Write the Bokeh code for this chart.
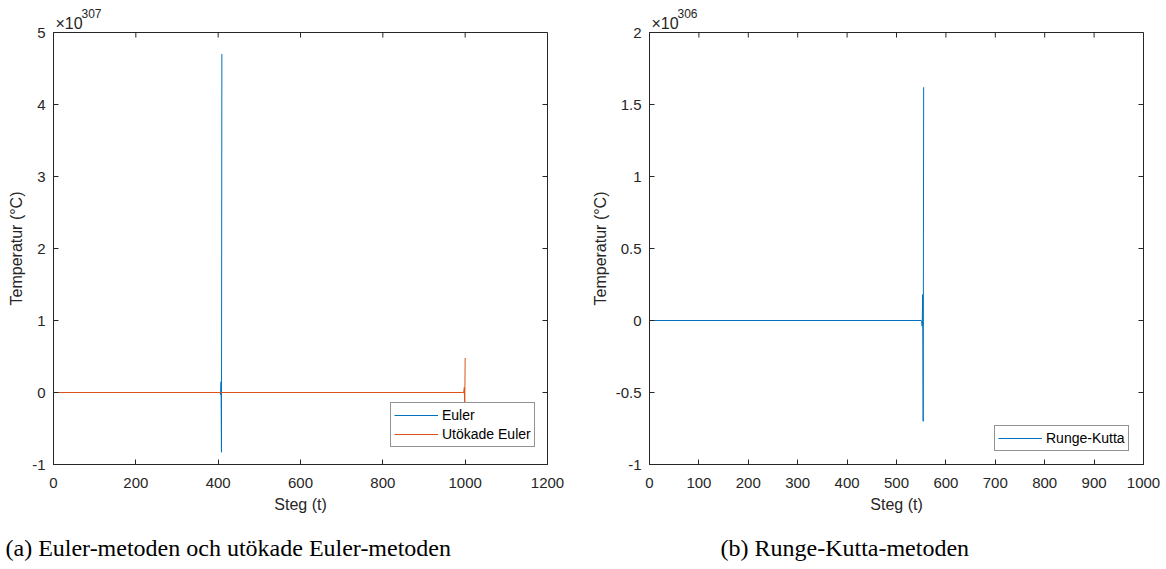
from bokeh.plotting import figure
from bokeh.layouts import row
from bokeh.models import (Range1d, FixedTicker, Title, Legend, LegendItem)
from bokeh.embed import file_html
from bokeh.resources import INLINE

# Temperature per step, mantissas (left panel x 1e307, right panel x 1e306)
euler_steps = [0, 404, 405, 406, 407, 408, 409]
euler_temp = [0.0, 0.0, 0.005, -0.03, 0.15, -0.83, 4.70]

heun_steps = [0, 994, 995, 996, 997, 998, 999, 1000]
heun_temp = [0.0, 0.0, 0.003, -0.009, 0.025, 0.07, -0.18, 0.48]

rk_steps = [0, 550, 551, 552, 553, 554, 555]
rk_temp = [0.0, 0.0, -0.01, -0.04, 0.18, -0.70, 1.62]

left_xticks = [0, 200, 400, 600, 800, 1000, 1200]
left_yticks = [-1, 0, 1, 2, 3, 4, 5]
left_ylabels = ["-1", "0", "1", "2", "3", "4", "5"]
right_xticks = [0, 100, 200, 300, 400, 500, 600, 700, 800, 900, 1000]
right_yticks = [-1, -0.5, 0, 0.5, 1, 1.5, 2]
right_ylabels = ["-1", "-0.5", "0", "0.5", "1", "1.5", "2"]

BLUE = "#0072BD"
ORANGE = "#D95319"
INK = "#262626"
SANS = "Liberation Sans"
SERIF = "Liberation Serif"
FRAME_W, FRAME_H, TICK = 494, 432, 5


def make_panel(xmax, ymin, ymax, xticks, yticks, ylabels, border_left,
               border_right):
    p = figure(frame_width=FRAME_W, frame_height=FRAME_H, output_backend="svg",
               toolbar_location=None, x_range=Range1d(0, xmax),
               y_range=Range1d(ymin, ymax), min_border_left=border_left,
               min_border_right=border_right, min_border_top=32,
               min_border_bottom=0, background_fill_color="white",
               border_fill_color="white")
    p.xgrid.visible = False
    p.ygrid.visible = False
    p.outline_line_color = INK
    p.outline_line_width = 1

    for ax in (p.xaxis[0], p.yaxis[0]):
        ax.axis_line_color = INK
        ax.major_tick_line_color = INK
        ax.major_tick_in = TICK
        ax.major_tick_out = 0
        ax.minor_tick_line_color = None
        ax.major_label_text_font = SANS
        ax.major_label_text_font_size = "15px"
        ax.major_label_text_color = INK
        ax.axis_label_text_font = SANS
        ax.axis_label_text_font_size = "16px"
        ax.axis_label_text_font_style = "normal"
        ax.axis_label_text_color = INK

    p.xaxis.ticker = FixedTicker(ticks=xticks)
    p.yaxis.ticker = FixedTicker(ticks=yticks)
    p.xaxis.major_label_overrides = {t: str(t) for t in xticks}
    p.yaxis.major_label_overrides = {t: l for t, l in zip(yticks, ylabels)}
    p.xaxis.major_label_standoff = 13
    p.yaxis.major_label_standoff = 8
    p.xaxis.axis_label = "Steg (t)"
    p.yaxis.axis_label = "Temperatur (°C)"
    p.xaxis.axis_label_standoff = 5
    p.yaxis.axis_label_standoff = 4

    # inward ticks on the top and right edges of the box
    dy = TICK * (ymax - ymin) / FRAME_H
    dx = TICK * xmax / FRAME_W
    p.segment(x0=xticks, x1=xticks, y0=[ymax] * len(xticks),
              y1=[ymax - dy] * len(xticks), line_color=INK, line_width=1)
    p.segment(x0=[xmax] * len(yticks), x1=[xmax - dx] * len(yticks),
              y0=yticks, y1=yticks, line_color=INK, line_width=1)
    return p


def exponent(p, power):
    p.add_layout(Title(text="×10", align="left", offset=2,
                       text_font=SANS, text_font_size="16px",
                       text_font_style="normal", text_color=INK,
                       standoff=2), "above")
    p.add_layout(Title(text=power, align="left", offset=28,
                       text_font=SANS, text_font_size="12px",
                       text_font_style="normal", text_color=INK,
                       standoff=-12), "above")


def caption(p, text, offset):
    p.add_layout(Title(text=text, align="left", offset=offset,
                       text_font=SERIF, text_font_size="24px",
                       text_font_style="normal", text_color="black",
                       standoff=34), "below")


def style_legend(legend, x, y):
    legend.location = (x, y)
    legend.border_line_color = INK
    legend.border_line_width = 1
    legend.background_fill_color = "white"
    legend.background_fill_alpha = 1
    legend.label_text_font = SANS
    legend.label_text_font_size = "14px"
    legend.label_text_color = "black"
    legend.glyph_width = 44
    legend.glyph_height = 18
    legend.label_height = 18
    legend.label_standoff = 4
    legend.spacing = 1
    legend.padding = 3
    legend.margin = 0


# Left panel: Euler and improved Euler
p1 = make_panel(1200, -1, 5, left_xticks, left_yticks, left_ylabels, 53, 36)
r_e = p1.line(euler_steps, euler_temp, line_color=BLUE, line_width=1)
r_h = p1.line(heun_steps, heun_temp, line_color=ORANGE, line_width=1)
exponent(p1, "307")
leg1 = Legend(items=[LegendItem(label="Euler", renderers=[r_e]),
                     LegendItem(label="Utökade Euler", renderers=[r_h])])
p1.add_layout(leg1, "center")
style_legend(leg1, 337, 17)
caption(p1, "(a) Euler-metoden och utökade Euler-metoden", -48)

# Right panel: Runge-Kutta
p2 = make_panel(1000, -1, 2, right_xticks, right_yticks, right_ylabels,
                66, 23)
r_rk = p2.line(rk_steps, rk_temp, line_color=BLUE, line_width=1)
exponent(p2, "306")
leg2 = Legend(items=[LegendItem(label="Runge-Kutta", renderers=[r_rk])])
p2.add_layout(leg2, "center")
style_legend(leg2, 345, 13)
caption(p2, "(b) Runge-Kutta-metoden", 71)

layout = row(p1, p2, spacing=0)
open("out.html", "w").write(file_html(layout, INLINE))
